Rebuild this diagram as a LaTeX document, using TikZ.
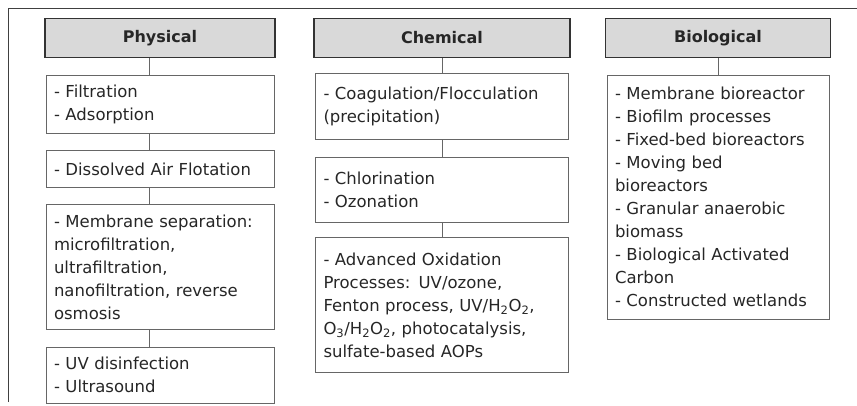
\documentclass[tikz,border=0pt]{standalone}
\usepackage{fontspec}
\setmainfont{DejaVu Sans}
\usepackage{tikz}
\usetikzlibrary{positioning}

\begin{document}
\begin{tikzpicture}
    [headnode/.style={rectangle, draw=black!80, line width=1.6pt, fill=black!15,
        minimum width=#1, minimum height=39pt, inner sep=0pt,
        font=\fontsize{16}{19}\selectfont\bfseries, text=black!85},
    itemnode/.style={rectangle, draw=black!60, line width=0.8pt,
        text width=#1, align=left, inner xsep=8pt, inner ysep=6pt,
        font=\fontsize{16.5}{23}\selectfont, text=black!85},
    link/.style={draw=black!60, line width=0.8pt},
    node distance=16.5pt]

    \useasboundingbox (0,0) rectangle (857pt,-405pt);

    %Frame
    \draw[black!75, line width=0.8pt] (8pt,-402pt) -- (8pt,-8pt) -- (857pt,-8pt);

    %Nodes
    \node[headnode=230pt] (phys) at (160pt,-38pt) {Physical};
    \node[itemnode=212pt, minimum height=58pt] (p1) [below=of phys]
        {- Filtration\\- Adsorption};
    \node[itemnode=212pt, minimum height=37pt] (p2) [below=of p1]
        {- Dissolved Air Flotation};
    \node[itemnode=212pt, minimum height=125pt] (p3) [below=of p2]
        {- Membrane separation:\\microfiltration,\\ultrafiltration,\\nanofiltration, reverse\\osmosis};
    \node[itemnode=212pt, minimum height=56pt] (p4) [below=of p3]
        {- UV disinfection\\- Ultrasound};

    \node[headnode=256pt] (chem) at (442pt,-38pt) {Chemical};
    \node[itemnode=237pt, minimum height=66pt] (c1) [below=15pt of chem]
        {- Coagulation/Flocculation\\(precipitation)};
    \node[itemnode=237pt, minimum height=65pt] (c2) [below=of c1]
        {- Chlorination\\- Ozonation};
    \node[itemnode=237pt, minimum height=135pt] (c3) [below=15pt of c2]
        {- Advanced Oxidation\\Processes: UV/ozone,\\Fenton process, UV/H\textsubscript{2}O\textsubscript{2},\\O\textsubscript{3}/H\textsubscript{2}O\textsubscript{2}, photocatalysis,\\sulfate-based AOPs};

    \node[headnode=225pt] (bio) at (718pt,-38pt) {Biological};
    \node[itemnode=206pt, minimum height=244pt] (b1) [below=of bio]
        {- Membrane bioreactor\\- Biofilm processes\\- Fixed-bed bioreactors\\- Moving bed\\bioreactors\\- Granular anaerobic\\biomass\\- Biological Activated\\Carbon\\- Constructed wetlands};

    %Links
    \coordinate (physx) at (149pt,0);
    \draw[link] (physx |- phys.south) -- (physx |- p1.north);
    \draw[link] (physx |- p1.south) -- (physx |- p2.north);
    \draw[link] (physx |- p2.south) -- (physx |- p3.north);
    \draw[link] (physx |- p3.south) -- (physx |- p4.north);
    \draw[link] (chem) -- (c1);
    \draw[link] (c1) -- (c2);
    \draw[link] (c2) -- (c3);
    \draw[link] (bio) -- (b1);
\end{tikzpicture}
\end{document}
